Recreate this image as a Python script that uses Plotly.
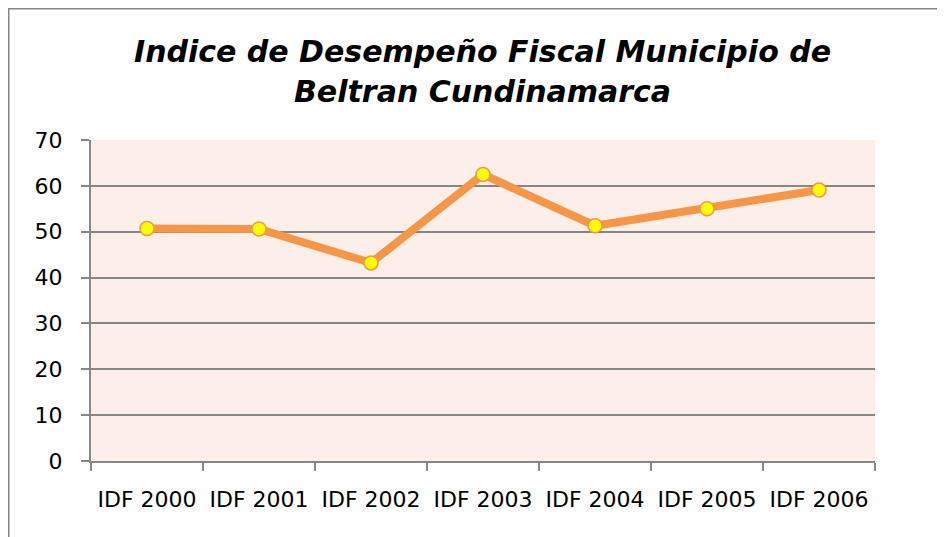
import plotly.graph_objects as go

categories = ["IDF 2000", "IDF 2001", "IDF 2002", "IDF 2003", "IDF 2004", "IDF 2005", "IDF 2006"]
values = [50.7, 50.6, 43.2, 62.5, 51.3, 55.0, 59.1]
y_ticks = [0, 10, 20, 30, 40, 50, 60, 70]
title_lines = ["Indice de Desempeño Fiscal Municipio de", "Beltran Cundinamarca"]

# the page places the figure 8px from the top-left corner; fill the rest of the window
W, H = 937, 529
L, R, T, B = 83, 70, 132, 76
pw = W - L - R
ph = H - T - B


def py(pix):
    return 1 + (T - pix) / ph


def px(pix):
    return (pix - L) / pw


fig = go.Figure()
fig.add_trace(go.Scatter(
    x=categories, y=values, mode="lines+markers",
    line=dict(color="#F79646", width=8),
    marker=dict(color="#FFFF00", size=14, line=dict(color="#F79646", width=1.5)),
    showlegend=False,
))

fig.add_shape(type="rect", xref="paper", yref="paper",
              x0=px(0.75), x1=px(W + 20),
              y0=py(H + 20), y1=py(0.75),
              line=dict(color="#868686", width=1.5), fillcolor="rgba(0,0,0,0)", layer="below")

for i, line in enumerate(title_lines):
    fig.add_annotation(text="<b><i>" + line + "</i></b>", xref="paper", yref="paper",
                       x=px(474), y=py(43 + 40 * i), xanchor="center", yanchor="middle",
                       showarrow=False, font=dict(family="DejaVu Sans", size=30, color="black"))

fig.update_layout(
    width=W, height=H,
    margin=dict(l=L, r=R, t=T, b=B),
    paper_bgcolor="white",
    plot_bgcolor="#FCEEE9",
    font=dict(family="DejaVu Sans", size=22, color="black"),
    xaxis=dict(type="category", tickson="boundaries", ticks="outside", ticklen=8, tickwidth=2,
               tickcolor="#868686", showline=True, linecolor="#868686", linewidth=2,
               showgrid=False, ticklabelstandoff=18, tickfont=dict(size=22),
               range=[-0.5, 6.5], automargin=False),
    yaxis=dict(range=[0, 70], tickvals=y_ticks, ticks="outside", ticklen=8, tickwidth=2,
               tickcolor="#868686", showline=True, linecolor="#868686", linewidth=2,
               showgrid=True, gridcolor="#868686", gridwidth=1.5, zeroline=False,
               ticklabelstandoff=14, tickfont=dict(size=22), automargin=False),
)

fig.write_html("out.html", config={"displayModeBar": False})
